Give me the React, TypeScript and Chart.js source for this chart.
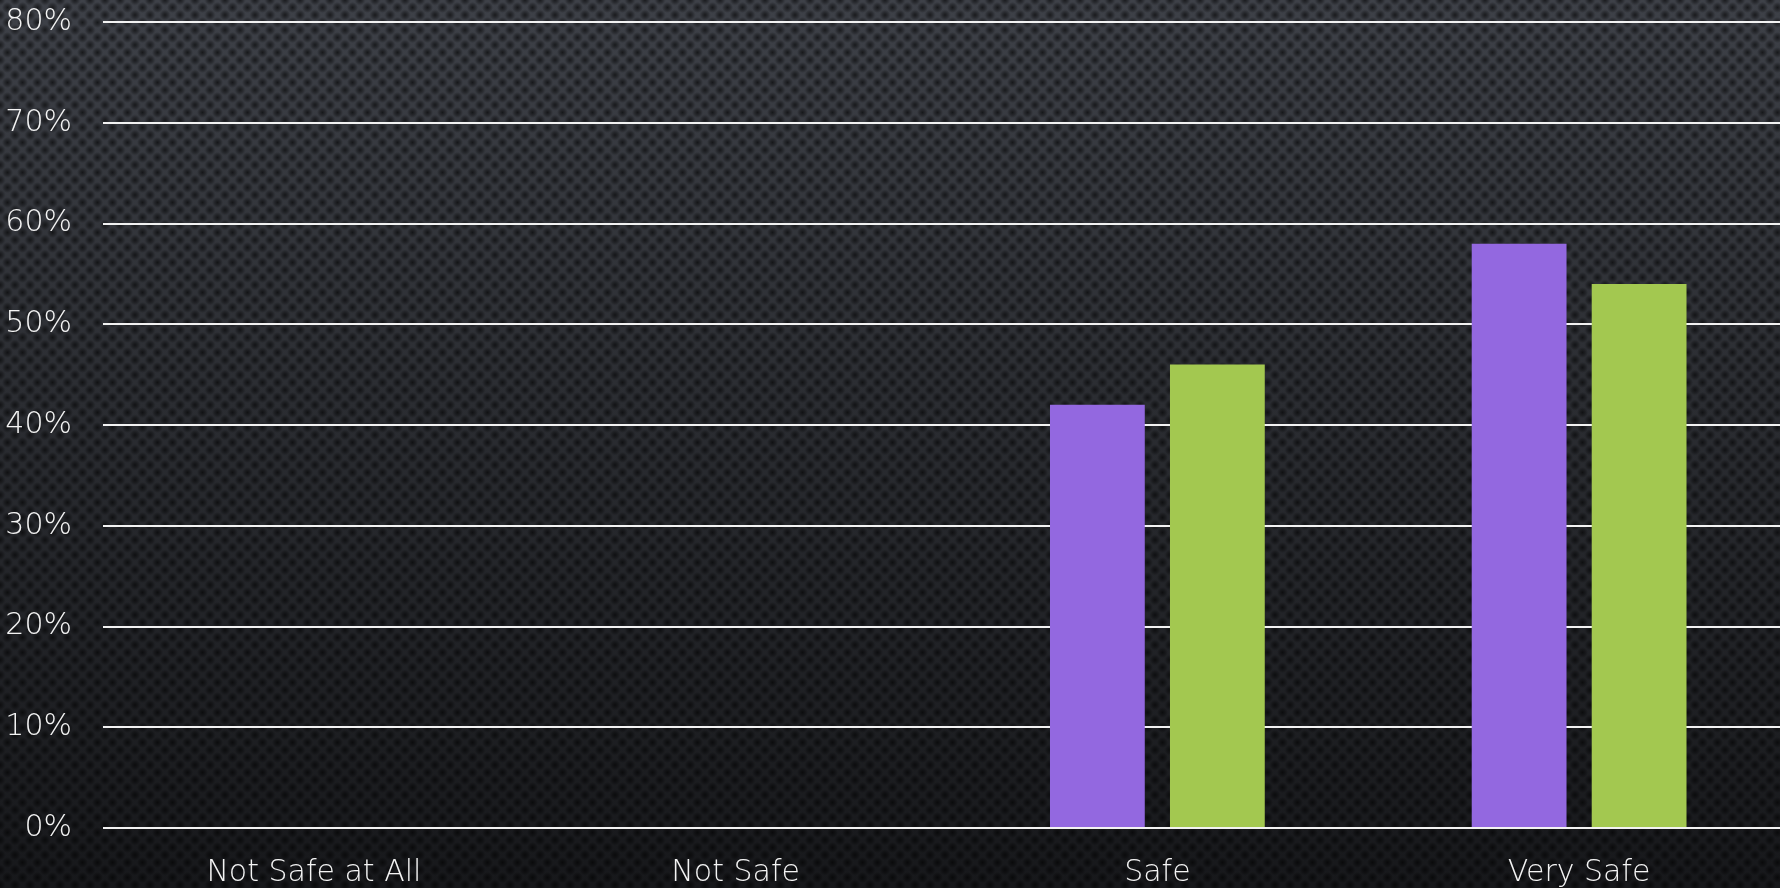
import React, { useEffect, useRef } from "react";
import { Chart, registerables } from "chart.js";

Chart.register(...registerables);

const categories = ["Not Safe at All", "Not Safe", "Safe", "Very Safe"];
const seriesPurple = [0, 0, 42, 58];
const seriesGreen = [0, 0, 46, 54];
const yMin = 0;
const yMax = 80;
const yStep = 10;

const FONT = "'DejaVu Sans', 'Noto Sans', sans-serif";

export default function App() {
  const ref = useRef<HTMLCanvasElement | null>(null);

  useEffect(() => {
    document.body.style.margin = "0";
    const canvas = ref.current;
    if (!canvas) return;
    const chart = new Chart(canvas, {
      type: "bar",
      data: {
        labels: categories,
        datasets: [
          {
            label: "Series 1",
            data: seriesPurple,
            backgroundColor: "#9368e0",
            borderWidth: 0,
            barPercentage: 0.79,
            categoryPercentage: 0.569,
          },
          {
            label: "Series 2",
            data: seriesGreen,
            backgroundColor: "#a3c850",
            borderWidth: 0,
            barPercentage: 0.79,
            categoryPercentage: 0.569,
          },
        ],
      },
      options: {
        responsive: false,
        animation: false,
        devicePixelRatio: 1,
        layout: { padding: { top: 22, bottom: 0, left: 0, right: 0 } },
        plugins: {
          legend: { display: false },
          tooltip: { enabled: false },
        },
        scales: {
          x: {
            grid: { display: false, drawTicks: false },
            border: { display: false },
            ticks: {
              color: "#f4f4f4",
              padding: 27,
              maxRotation: 0,
              font: { family: FONT, size: 30, weight: "200" as any },
            },
            afterFit: (s: any) => {
              s.height = 60;
            },
          },
          y: {
            min: yMin,
            max: yMax,
            grid: {
              color: "#f2f2f2",
              lineWidth: 2,
              drawTicks: false,
            },
            border: { display: false },
            ticks: {
              stepSize: yStep,
              color: "#f4f4f4",
              padding: 31,
              font: { family: FONT, size: 30, weight: "200" as any },
              callback: (v: any) => `${v}%`,
            },
            afterFit: (s: any) => {
              s.width = 103;
              s.paddingTop = 18;
              s.paddingBottom = 18;
            },
          },
        },
      },
    });
    return () => chart.destroy();
  }, []);

  const bg =
    "radial-gradient(circle, rgba(0,0,0,0.6) 0px, rgba(0,0,0,0.3) 3px, rgba(0,0,0,0) 5.5px) 0px 0px / 15px 15px, " +
    "radial-gradient(circle, rgba(0,0,0,0.6) 0px, rgba(0,0,0,0.3) 3px, rgba(0,0,0,0) 5.5px) 7.5px 7.5px / 15px 15px, " +
    "linear-gradient(to bottom, #3e4148 0%, #2b2d32 45%, #17181b 100%)";

  return (
    <div
      style={{
        width: 1780,
        height: 888,
        overflow: "hidden",
        position: "relative",
        background: bg,
      }}
    >
      <canvas
        ref={ref}
        width={1790}
        height={888}
        style={{ display: "block", width: 1790, height: 888 }}
      />
    </div>
  );
}
